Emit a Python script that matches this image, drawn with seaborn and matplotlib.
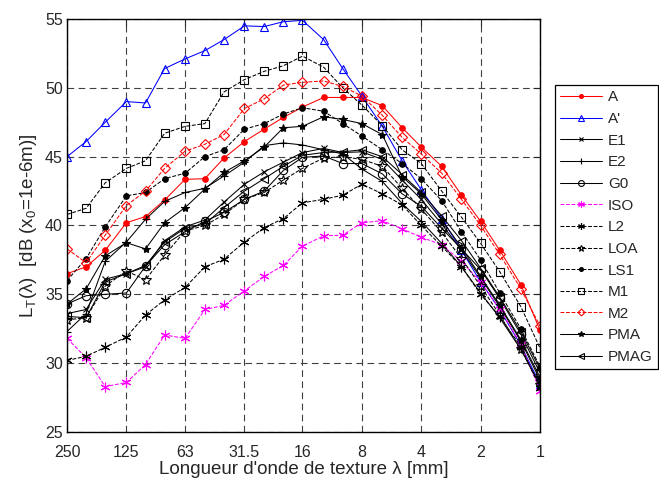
import numpy as np
import pandas as pd
import matplotlib
matplotlib.use("Agg")
import matplotlib.pyplot as plt
import seaborn as sns

# longueurs d'onde (tiers d'octave, mm)
wavelengths = [250, 200, 160, 125, 100, 80, 63, 50, 40, 31.5, 25, 20, 16,
               12.5, 10, 8, 6.3, 5, 4, 3.15, 2.5, 2, 1.6, 1.25, 1]

lt_A = [36.5, 37.0, 38.2, 40.2, 40.65, 41.85, 43.35, 43.4, 44.9, 46.1, 47.0, 47.85, 48.6,
        49.3, 49.3, 49.3, 48.7, 47.1, 45.7, 44.3, 42.2, 40.3, 38.2, 35.7, 32.4]
lt_Ap = [45.0, 46.1, 47.5, 49.0, 48.9, 51.4, 52.1, 52.7, 53.5, 54.5, 54.45, 54.8, 54.9,
         53.5, 51.4, 49.4, 47.2, 44.7, 42.6, 40.5, 38.2, 35.9, 33.9, 31.3, 28.5]
lt_E1 = [33.6, 33.9, 36.1, 36.5, 37.0, 38.9, 39.9, 40.4, 41.7, 43.0, 43.9, 44.6, 45.3,
         45.6, 45.3, 45.35, 44.8, 43.3, 41.9, 40.1, 38.2, 36.2, 34.1, 31.6, 28.8]
lt_E2 = [32.3, 33.6, 37.4, 38.8, 40.45, 41.75, 42.4, 42.7, 43.6, 44.6, 45.8, 46.0, 45.85,
         45.5, 45.2, 44.1, 43.2, 41.6, 40.3, 38.7, 37.0, 35.1, 33.3, 31.0, 28.4]
lt_G0 = [34.3, 34.9, 35.0, 35.1, 37.05, 38.6, 39.55, 40.3, 40.95, 41.9, 42.5, 44.0, 44.95,
         45.05, 44.5, 44.5, 43.75, 42.3, 41.4, 39.8, 38.3, 36.8, 34.7, 32.1, 29.3]
lt_ISO = [31.8, 30.4, 28.3, 28.6, 29.9, 32.05, 31.8, 33.9, 34.2, 35.25, 36.3, 37.1, 38.5,
          39.25, 39.3, 40.2, 40.35, 39.75, 39.15, 38.6, 37.4, 35.9, 33.9, 31.4, 28.0]
lt_L2 = [30.2, 30.5, 31.15, 31.9, 33.5, 34.6, 35.5, 37.0, 37.55, 38.8, 39.85, 40.5, 41.65,
         41.9, 42.2, 43.0, 42.3, 41.5, 40.0, 38.5, 37.0, 35.0, 33.4, 31.2, 28.2]
lt_LOA = [33.15, 33.3, 35.6, 36.7, 36.05, 37.85, 39.6, 40.0, 40.8, 41.9, 42.4, 43.3, 44.15,
          44.9, 45.0, 44.8, 44.3, 42.7, 41.2, 39.5, 37.6, 35.6, 33.5, 31.0, 28.4]
lt_LS1 = [36.0, 37.6, 39.9, 42.15, 42.4, 43.4, 43.8, 45.0, 45.5, 47.0, 47.4, 48.1, 48.55,
          48.3, 47.4, 46.5, 45.5, 44.5, 43.4, 41.8, 39.55, 37.5, 35.1, 32.5, 29.75]
lt_M1 = [40.8, 41.25, 43.1, 44.15, 44.7, 46.7, 47.2, 47.4, 49.7, 50.6, 51.2, 51.6, 52.3,
         51.5, 50.0, 48.75, 47.25, 45.5, 44.5, 42.5, 40.6, 38.7, 36.65, 34.1, 31.1]
lt_M2 = [38.3, 37.3, 39.3, 41.45, 42.5, 44.15, 45.4, 45.9, 46.6, 48.5, 49.2, 50.2, 50.4,
         50.5, 50.1, 49.4, 48.0, 46.4, 45.2, 43.8, 41.9, 40.0, 37.9, 35.4, 32.7]
lt_PMA = [34.3, 35.4, 37.8, 38.75, 38.3, 40.2, 41.3, 42.65, 43.85, 44.7, 45.7, 47.1, 47.2,
          47.9, 47.7, 47.4, 46.6, 43.55, 42.3, 40.4, 38.4, 36.3, 34.2, 31.7, 29.0]
lt_PMAG = [33.4, 33.3, 35.9, 36.5, 37.1, 38.8, 39.8, 40.1, 41.3, 42.5, 43.4, 44.3, 45.1,
           45.3, 45.35, 45.5, 45.0, 43.7, 42.4, 40.7, 38.9, 36.9, 34.8, 32.3, 29.6]

tick_vals = [250, 125, 63, 31.5, 16, 8, 4, 2, 1]
tick_labels = ["250", "125", "63", "31.5", "16", "8", "4", "2", "1"]

# style de chaque série : (label, valeurs, couleur, style de trait, marqueur, rempli, taille)
series = [
    ("A", lt_A, "#ff0000", "-", "o", True, 4),
    ("A'", lt_Ap, "#0000ff", "-", "^", False, 6),
    ("E1", lt_E1, "black", "-", "x", True, 4),
    ("E2", lt_E2, "black", "-", "+", True, 6),
    ("G0", lt_G0, "black", "-", "o", False, 6),
    ("ISO", lt_ISO, "#ff00ff", "--", (6, 2, 0), True, 7),
    ("L2", lt_L2, "black", "--", (6, 2, 0), True, 7),
    ("LOA", lt_LOA, "black", "--", "*", False, 7),
    ("LS1", lt_LS1, "black", "--", "o", True, 4),
    ("M1", lt_M1, "black", "--", "s", False, 6),
    ("M2", lt_M2, "#ff0000", "--", "D", False, 5),
    ("PMA", lt_PMA, "black", "-", "*", True, 6),
    ("PMAG", lt_PMAG, "black", "-", "<", False, 6),
]

sns.set_style("white")
plt.rcParams["font.family"] = ["Liberation Sans", "DejaVu Sans"]
plt.rcParams["mathtext.fontset"] = "custom"
plt.rcParams["mathtext.rm"] = "Liberation Sans"
plt.rcParams["mathtext.it"] = "Liberation Sans:italic"

fig = plt.figure(figsize=(6.59, 4.78), dpi=100)
ax = fig.add_axes([0.1017, 0.0962, 0.7177, 0.8641])

for label, vals, color, ls, marker, filled, ms in series:
    sns.lineplot(x=wavelengths, y=vals, ax=ax, color=color, linestyle=ls,
                 marker=marker, markersize=ms, markeredgecolor=color,
                 markerfacecolor=color if filled else "none",
                 markeredgewidth=0.8, linewidth=0.75, label=label,
                 dashes=(6, 4) if ls == "--" else "", sort=False)

ax.set_xscale("log", base=2)
ax.set_xlim(250, 1)
ax.set_ylim(25, 55)
ax.set_xticks(tick_vals)
ax.set_xticklabels(tick_labels)
ax.xaxis.set_minor_locator(matplotlib.ticker.NullLocator())
ax.set_yticks(np.arange(25, 56, 5))
ax.tick_params(axis="both", labelsize=11.5, direction="in", length=5,
               top=True, right=True, width=0.8)
ax.tick_params(axis="x", pad=9)
ax.tick_params(axis="y", pad=3)
ax.grid(True, color="0.25", linestyle=(0, (6, 4)), linewidth=0.8)
for sp in ax.spines.values():
    sp.set_color("black")
    sp.set_linewidth(1.0)

ax.set_xlabel("Longueur d'onde de texture λ [mm]", fontsize=13.5, labelpad=1)
ax.set_ylabel(r"L$_\mathrm{T}$(λ)  [dB (x$_\mathrm{0}$=1e-6m)]", fontsize=13.5, labelpad=4)

leg = ax.legend(loc="upper left", bbox_to_anchor=(1.032, 0.84), borderaxespad=0,
                fontsize=11, labelspacing=0.5, handlelength=2.75, handletextpad=0.35,
                frameon=True, fancybox=False, edgecolor="black", framealpha=1,
                borderpad=0.35, markerscale=0.7)
leg.get_frame().set_linewidth(0.9)

fig.savefig("out.png", dpi=100)
